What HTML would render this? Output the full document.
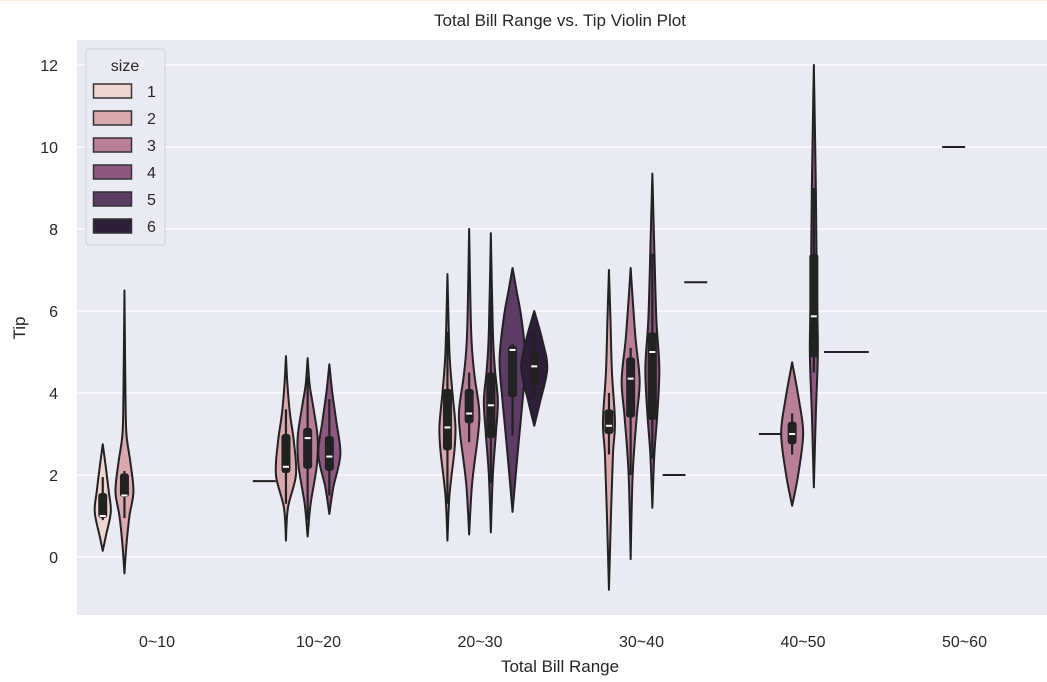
<!DOCTYPE html>
<html><head><meta charset="utf-8"><style>
body{margin:0;background:#fff;width:1047px;height:682px;overflow:hidden}
svg{display:block;font-family:"Liberation Sans","DejaVu Sans",sans-serif}
</style></head><body>
<svg id="chart" width="1047" height="682">
<line x1="0" y1="0.5" x2="1047" y2="0.5" stroke="#fbefd9"/>
<text x="560" y="26" font-size="17" text-anchor="middle" fill="#262626">Total Bill Range vs. Tip Violin Plot</text>
<rect x="77" y="40" width="970" height="575" fill="#eaeaf2"/>
<g id="grid"></g><g id="marks"></g><g id="yticks"></g><g id="xticks"></g>
<text x="560" y="672" font-size="17" text-anchor="middle" fill="#262626">Total Bill Range</text>
<text x="25" y="328" font-size="17" text-anchor="middle" fill="#262626" transform="rotate(-90 25 328)">Tip</text>
<g id="legend"></g>
</svg>
<script>
const categories = ["0~10","10~20","20~30","30~40","40~50","50~60"];
const sizes = [1,2,3,4,5,6];
const yTicks = [0,2,4,6,8,10,12];
const violinCat  = [0,0,1,1,1,2,2,2,2,2,3,3,3,4,4];
const violinSize = [1,2,2,3,4,2,3,4,5,6,2,3,4,3,4];
const violinNodes = [
 [[0.15,0],[0.5,3],[1.1,8],[1.6,6],[2.2,3],[2.75,0]],
 [[-0.4,0],[0.3,2],[1.0,5],[1.6,9],[2.3,6],[3.0,2],[4.0,1],[6.5,0]],
 [[0.4,0],[1.2,2],[2.0,10],[2.8,8],[3.5,4],[4.2,1.5],[4.9,0]],
 [[0.5,0],[1.3,3],[2.2,9],[2.9,10],[3.6,6],[4.2,2],[4.85,0]],
 [[1.05,0],[1.7,4],[2.5,11],[3.3,7],[4.0,3],[4.7,0]],
 [[0.4,0],[1.5,2],[2.6,7],[3.2,8],[4.0,5],[5.0,2],[6.9,0]],
 [[0.55,0],[1.8,3],[3.0,9],[3.6,10],[4.5,5],[5.5,2],[8.0,0]],
 [[0.6,0],[2.0,2],[3.0,5],[3.8,7],[4.6,4],[5.5,2],[7.9,0]],
 [[1.1,0],[2.5,5],[3.8,10],[4.8,13],[5.8,9],[6.5,4],[7.05,0]],
 [[3.2,0],[3.8,6],[4.6,13],[5.3,8],[6.0,0]],
 [[-0.8,0],[1.0,2],[2.5,4],[3.3,6],[4.5,3],[5.8,1.5],[7.0,0]],
 [[-0.05,0],[2.0,2],[3.4,6],[4.3,9],[5.3,5],[6.3,2],[7.05,0]],
 [[1.2,0],[2.5,2],[3.5,5],[4.6,7],[5.8,4],[7.5,2],[9.35,0]],
 [[1.25,0],[2.0,6],[3.0,11],[3.8,7],[4.75,0]],
 [[1.7,0],[3.5,2],[5.0,4],[6.5,3],[9.0,2],[12.0,0]]
];
const boxQ1  = [0.95,1.46,2.05,2.15,2.1,2.6,3.26,2.9,3.9,4.2,3.0,3.4,3.34,2.75,4.87];
const boxMed = [1.0,1.5,2.2,2.9,2.45,3.16,3.5,3.7,5.05,4.65,3.2,4.35,5.0,3.0,5.87];
const boxQ3  = [1.56,2.04,3.0,3.15,2.95,4.1,4.1,4.5,5.15,5.0,3.6,4.87,5.48,3.3,7.4];
const whiskLo= [0.9,0.95,1.3,0.9,1.5,1.3,2.8,1.8,2.97,3.9,2.5,2.0,2.4,2.5,4.5];
const whiskHi= [1.95,2.1,3.6,4.4,3.85,5.5,4.5,6.4,5.2,5.5,4.0,5.1,7.4,3.5,9.0];
const singleCat  = [1,3,3,4,4,4,5];
const singleSize = [1,5,6,2,5,6,3];
const singleVal  = [1.85,2.0,6.7,3.0,5.0,5.0,10.0];
const colors = ["#efd5d0","#d9a9ae","#b97e98","#8e5780","#5c3b65","#2d1e3a"];

const NS="http://www.w3.org/2000/svg";
const yS=v=>557-41*v;
const xS=(c,s)=>157+161.5*c+(s-3.5)*21.7;
function mk(tag,attrs,parent){const e=document.createElementNS(NS,tag);for(const k in attrs)e.setAttribute(k,attrs[k]);parent.appendChild(e);return e;}
const grid=document.getElementById('grid'),marks=document.getElementById('marks');
const yt=document.getElementById('yticks'),xt=document.getElementById('xticks'),lg=document.getElementById('legend');
yTicks.forEach(t=>{
 const l=mk('line',{x1:77,x2:1047,y1:yS(t),y2:yS(t),stroke:'#fff','stroke-width':1.3},grid);
 
 
 const tx=mk('text',{x:58,y:yS(t)+6,'font-size':16,'text-anchor':'end',fill:'#262626'},yt);
 tx.textContent=t;
 
 
});
categories.forEach((c,i)=>{
 const tx=mk('text',{x:157+161.5*i,y:647,'font-size':16,'text-anchor':'middle',fill:'#262626'},xt);
 tx.textContent=c;
 
 
});
function side(pts){
 let d='';
 for(let i=0;i<pts.length-1;i++){
  const p0=pts[Math.max(i-1,0)],p1=pts[i],p2=pts[i+1],p3=pts[Math.min(i+2,pts.length-1)];
  const c1=[p1[0]+(p2[0]-p0[0])/6,p1[1]+(p2[1]-p0[1])/6],c2=[p2[0]-(p3[0]-p1[0])/6,p2[1]-(p3[1]-p1[1])/6];
  d+=` C${c1[0]},${c1[1]} ${c2[0]},${c2[1]} ${p2[0]},${p2[1]}`;
 }
 return d;
}
violinNodes.forEach((nodes,i)=>{
 const cx=xS(violinCat[i],violinSize[i]);
 const right=nodes.map(n=>[cx+n[1],yS(n[0])]);
 const left=nodes.slice().reverse().map(n=>[cx-n[1],yS(n[0])]);
 const d='M'+right[0][0]+','+right[0][1]+side(right)+' L'+left[0][0]+','+left[0][1]+side(left)+'Z';
 const p=mk('path',{d:d,fill:colors[violinSize[i]-1],stroke:'#222','stroke-width':2,'stroke-linejoin':'round'},marks);
 
 
 const w=mk('line',{x1:cx,x2:cx,y1:yS(whiskLo[i]),y2:yS(whiskHi[i]),stroke:'#222','stroke-width':2.2},marks);
 
 
 const b=mk('rect',{x:cx-4.5,y:yS(boxQ3[i]),width:9,height:yS(boxQ1[i])-yS(boxQ3[i]),rx:3,fill:'#222'},marks);
 
 
 const m=mk('line',{x1:cx-3,x2:cx+3,y1:yS(boxMed[i]),y2:yS(boxMed[i]),stroke:'#fff','stroke-width':2},marks);
 
 
});
singleVal.forEach((v,i)=>{
 const cx=xS(singleCat[i],singleSize[i]);
 const l=mk('line',{x1:cx-11.5,x2:cx+11.5,y1:yS(v),y2:yS(v),stroke:'#222','stroke-width':2},marks);
 
 
});
const lb=mk('rect',{x:86,y:49,width:79,height:196,rx:3,fill:'#eaeaf2',stroke:'#d0d0d8','fill-opacity':0.85},lg);


const lt=mk('text',{x:125,y:71,'font-size':16,'text-anchor':'middle',fill:'#262626'},lg);
lt.textContent='size';


sizes.forEach((s,i)=>{
 const y=84+i*27;
 const r=mk('rect',{x:93.5,y:y,width:38,height:14,fill:colors[i],stroke:'#333','stroke-width':1.5},lg);
 
 
 const t=mk('text',{x:147,y:y+13,'font-size':16,fill:'#262626'},lg);
 t.textContent=s;
 
 
});
</script>
</body></html>
